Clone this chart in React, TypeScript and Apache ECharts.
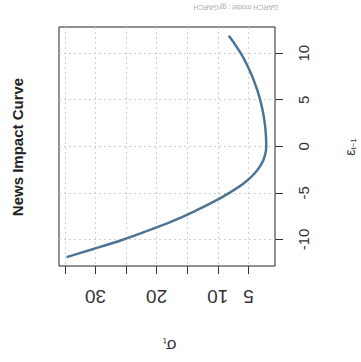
import React, { useEffect, useRef } from "react";
import * as echarts from "echarts";

// Values
const EPS = [-11.9, -11, -10, -9, -8, -7, -6, -5, -4, -3, -2, -1, 0, 1, 2, 3, 4, 5, 6, 7, 8, 9, 10, 11, 11.86];
const SIGMA = [34.7, 30.2, 25.4, 21.2, 17.3, 13.9, 10.8, 8.1, 5.8, 4.1, 2.95, 2.3, 2.08, 2.12, 2.24, 2.44, 2.72, 3.08, 3.53, 4.07, 4.7, 5.42, 6.25, 7.25, 8.2];
const SIGMA_TICKS = [5, 10, 15, 20, 25, 30, 35];
const SIGMA_LABELS = [5, 10, 20, 30];
const EPS_TICKS = [-10, -5, 0, 5, 10];

const FONT = '"Liberation Sans", Arial, sans-serif';

export default function App() {
  const ref = useRef<HTMLDivElement>(null);
  useEffect(() => {
    if (!ref.current) return;
    const chart = echarts.init(ref.current, null, { renderer: "svg" });
    const data = EPS.map((e, i) => [SIGMA[i], e]);
    chart.setOption({
      animation: false,
      backgroundColor: "#fff",
      grid: {
        left: 59,
        right: 86,
        top: 27,
        bottom: 96,
        show: true,
        borderColor: "#222",
        borderWidth: 1,
      },
      xAxis: {
        type: "value",
        min: 0.65,
        max: 35.95,
        inverse: true,
        position: "bottom",
        axisLine: { show: false, onZero: false },
        axisTick: {
          show: true,
          length: 8,
          customValues: SIGMA_TICKS,
          lineStyle: { color: "#333", width: 1 },
        },
        axisLabel: {
          customValues: SIGMA_LABELS,
          rotate: 180,
          fontSize: 19,
          color: "#333",
          margin: 21,
          fontFamily: FONT,
        },
        splitLine: {
          show: true,
          lineStyle: { color: "#cfcfcf", type: [2, 3], width: 1 },
        },
      },
      yAxis: {
        type: "value",
        position: "right",
        min: -12.85,
        max: 12.81,
        axisLine: { show: false, onZero: false },
        axisTick: {
          show: true,
          length: 8,
          customValues: EPS_TICKS,
          lineStyle: { color: "#333", width: 1 },
        },
        axisLabel: {
          customValues: EPS_TICKS,
          rotate: 90,
          fontSize: 15,
          color: "#333",
          margin: 21,
          fontFamily: FONT,
        },
        splitLine: {
          show: true,
          lineStyle: { color: "#cfcfcf", type: [2, 3], width: 1 },
        },
      },
      series: [
        {
          type: "line",
          data,
          showSymbol: false,
          smooth: 0.3,
          lineStyle: { color: "#4a7597", width: 2.5 },
        },
      ],
      graphic: [
        {
          type: "text",
          x: 17.5,
          y: 147,
          rotation: Math.PI / 2,
          style: {
            text: "News Impact Curve",
            font: `bold 15px ${FONT}`,
            fill: "#222",
            align: "center",
            verticalAlign: "middle",
          },
        },
        {
          type: "text",
          x: 236,
          y: 7.5,
          rotation: Math.PI,
          style: {
            text: "GARCH model : gjrGARCH",
            font: `7px ${FONT}`,
            fill: "#aaa",
            align: "center",
            verticalAlign: "middle",
          },
        },
        {
          type: "text",
          x: 170,
          y: 345,
          rotation: Math.PI,
          style: {
            text: "{a|σ}{b|t}",
            align: "center",
            verticalAlign: "middle",
            fill: "#333",
            rich: {
              a: { fontSize: 17, fontFamily: FONT, fill: "#333", lineHeight: 18 },
              b: { fontSize: 9, fontFamily: FONT, fill: "#333", lineHeight: 9, verticalAlign: "bottom" },
            },
          },
        },
        {
          type: "text",
          x: 350,
          y: 147,
          rotation: Math.PI / 2,
          style: {
            text: "{a|ε}{b|t−1}",
            align: "center",
            verticalAlign: "middle",
            fill: "#333",
            rich: {
              a: { fontSize: 14, fontFamily: FONT, fill: "#333", lineHeight: 14 },
              b: { fontSize: 8, fontFamily: FONT, fill: "#333", lineHeight: 8, verticalAlign: "bottom" },
            },
          },
        },
      ],
    });
    return () => chart.dispose();
  }, []);
  return (
    <div
      ref={ref}
      style={{ position: "fixed", left: 0, top: 0, width: 361, height: 362 }}
    />
  );
}
